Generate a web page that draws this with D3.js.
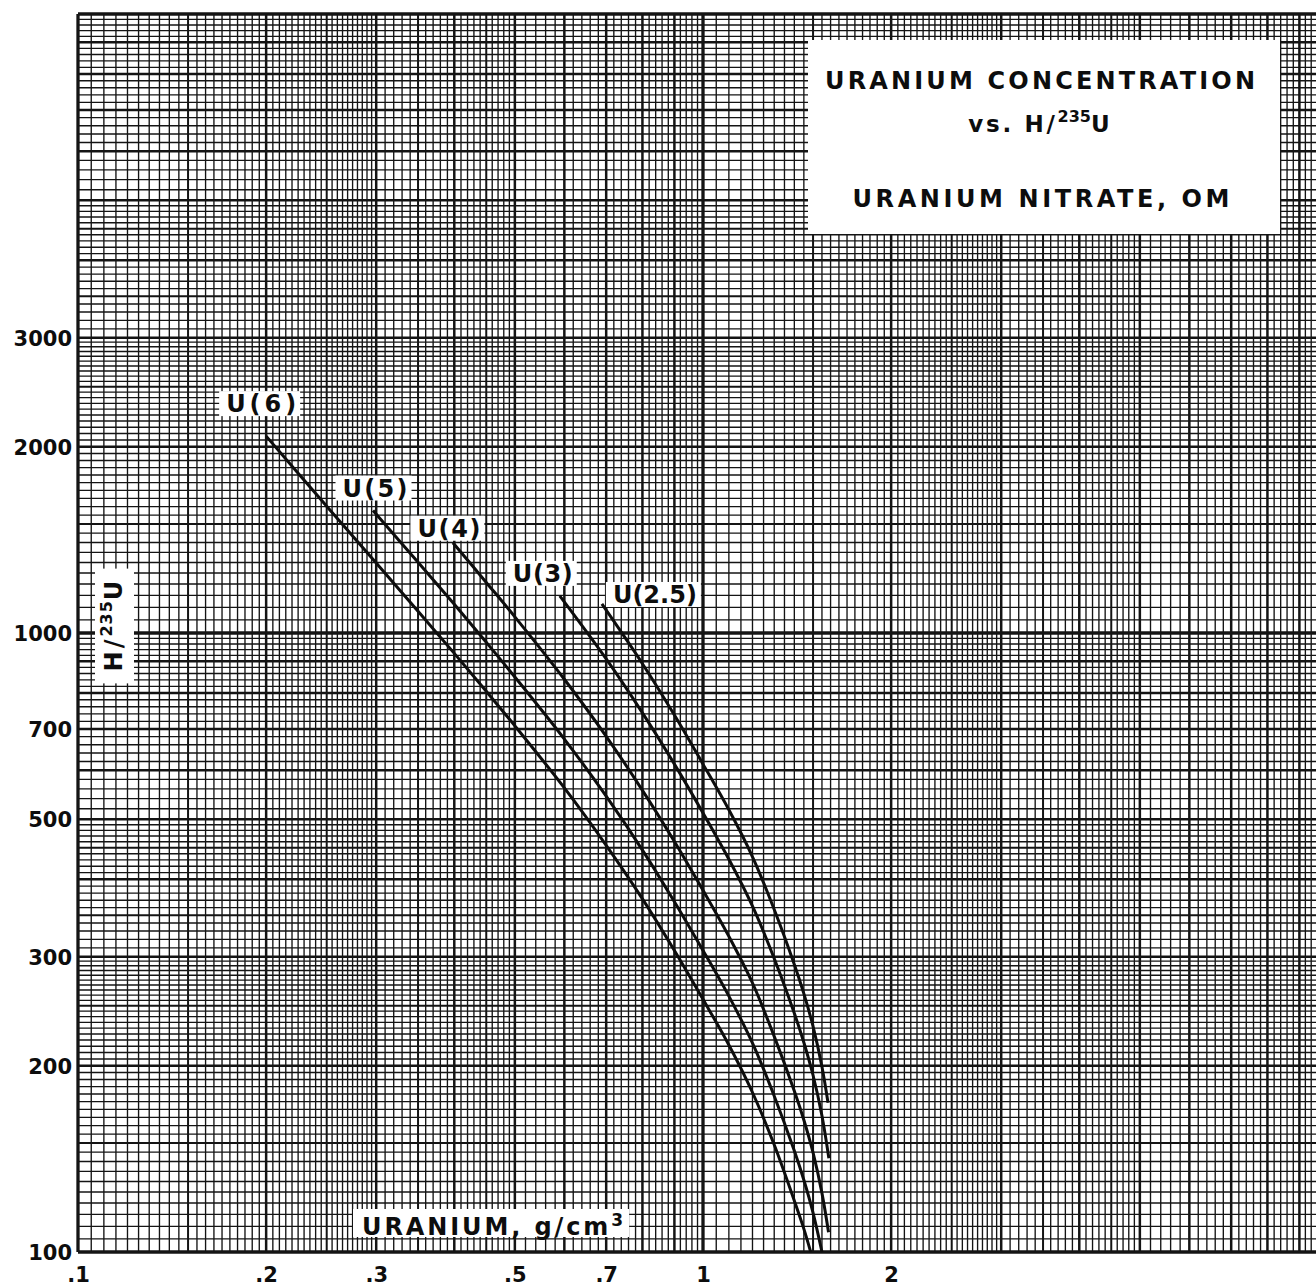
<!DOCTYPE html>
<html><head><meta charset="utf-8">
<script src="https://cdn.jsdelivr.net/npm/d3@7"></script>
<style>
html,body{margin:0;padding:0;background:#fff;}
svg{display:block;}
</style></head><body>
<svg id="chart" width="1316" height="1287"></svg>
<script>
// ---------- data ----------
const xTickValues = [0.1, 0.2, 0.3, 0.5, 0.7, 1, 2];
const xTickLabels = [".1", ".2", ".3", ".5", ".7", "1", "2"];
const yTickValues = [100, 200, 300, 500, 700, 1000, 2000, 3000];
const yTickLabels = ["100", "200", "300", "500", "700", "1000", "2000", "3000"];

const seriesNames = ["U(6)", "U(5)", "U(4)", "U(3)", "U(2.5)"];
const u6X  = [0.2, 0.25, 0.3, 0.35, 0.4, 0.45, 0.5, 0.6, 0.7, 0.8, 0.9, 1.0, 1.1, 1.2, 1.3, 1.4, 1.45, 1.487];
const u6Y  = [2080, 1602, 1297, 1084, 927, 805, 708, 562, 454, 372, 307, 256, 216, 181, 149, 121, 109, 100];
const u5X  = [0.2965, 0.35, 0.4, 0.45, 0.5, 0.6, 0.7, 0.8, 0.9, 1.0, 1.1, 1.2, 1.3, 1.4, 1.45, 1.5, 1.55];
const u5Y  = [1577, 1301, 1113, 966, 849, 674, 545, 446, 368, 307, 259, 217.5, 178.7, 145.7, 130.7, 115.7, 100];
const u4X  = [0.398, 0.45, 0.5, 0.6, 0.7, 0.8, 0.9, 1.0, 1.1, 1.2, 1.3, 1.4, 1.45, 1.5, 1.55, 1.588];
const u4Y  = [1399, 1207, 1062, 842, 681, 557, 460.5, 384, 323.5, 272, 223, 182, 163.4, 144.7, 124.5, 107.6];
const u3X  = [0.59, 0.7, 0.8, 0.9, 1.0, 1.1, 1.2, 1.3, 1.4, 1.45, 1.5, 1.55, 1.59];
const u3Y  = [1148, 908, 743, 614, 512, 431, 362, 298, 243, 218, 193, 166, 141.7];
const u25X = [0.689, 0.8, 0.9, 1.0, 1.1, 1.2, 1.3, 1.4, 1.45, 1.5, 1.55, 1.585];
const u25Y = [1114, 892, 737, 614, 518, 435, 357.5, 291.4, 261.5, 231.5, 199.2, 174.2];
const seriesX = [u6X, u5X, u4X, u3X, u25X];
const seriesY = [u6Y, u5Y, u4Y, u3Y, u25Y];

// ---------- layout ----------
const W = 1316, H = 1287;
const svg = d3.select("#chart");
const x = d3.scaleLog().domain([0.1, 10]).range([78, 1328]);
const y = d3.scaleLog().domain([100, 10000]).range([1252, 14]);
const [yBot, yTop] = y.range();
const [xLeft] = x.range();
const INK = "#0d0d0d";
const FONT = "'DejaVu Sans', 'Liberation Sans', sans-serif";

// graph-paper grid
function gridVals(lo, hi) {
  const out = [];
  for (let d = Math.round(Math.log10(lo)); d < Math.round(Math.log10(hi)); d++) {
    const base = Math.pow(10, d);
    const ms = [];
    for (let i = 0; i < 40; i++) ms.push(Math.round((1 + i * 0.05) * 100) / 100);
    for (let j = 0; j < 20; j++) ms.push(Math.round((3 + j * 0.1) * 100) / 100);
    for (let k = 0; k < 25; k++) ms.push(Math.round((5 + k * 0.2) * 100) / 100);
    ms.forEach(m => {
      let w;
      if (m === 1) w = 3.3;
      else if (Number.isInteger(m)) w = 2.5;
      else if (Math.abs(m * 2 - Math.round(m * 2)) < 1e-9) w = 2.0;
      else w = 1.35;
      out.push({ v: base * m, w });
    });
  }
  out.push({ v: hi, w: 3.3 });
  return out;
}
const grid = svg.append("g").attr("stroke", "#141414");
gridVals(0.1, 10).filter(d => x(d.v) <= W + 2).forEach(d => {
  grid.append("line").attr("x1", x(d.v)).attr("x2", x(d.v))
    .attr("y1", yTop).attr("y2", yBot).attr("stroke-width", d.w);
});
gridVals(100, 10000).forEach(d => {
  grid.append("line").attr("x1", xLeft).attr("x2", W + 2)
    .attr("y1", y(d.v)).attr("y2", y(d.v)).attr("stroke-width", d.w);
});

// axes (tick labels)
const yAxis = svg.append("g").attr("transform", `translate(${xLeft - 1},0)`)
  .call(d3.axisLeft(y).tickValues(yTickValues)
    .tickFormat((d, i) => yTickLabels[i]).tickSize(0).tickPadding(5));
yAxis.select(".domain").remove();
yAxis.attr("font-family", FONT).attr("font-weight", "bold").attr("font-size", 21);
yAxis.selectAll("text").attr("fill", INK).attr("dy", "0.36em");

const xAxis = svg.append("g").attr("transform", `translate(0,${yBot})`)
  .call(d3.axisBottom(x).tickValues(xTickValues)
    .tickFormat((d, i) => xTickLabels[i]).tickSize(0).tickPadding(15));
xAxis.select(".domain").remove();
xAxis.attr("font-family", FONT).attr("font-weight", "bold").attr("font-size", 21);
xAxis.selectAll("text").attr("fill", INK);

// layers
const boxLayer = svg.append("g");
const curveLayer = svg.append("g");
const textLayer = svg.append("g");

function addBox(textSel, padL, padR, padT, padB, transform) {
  const b = textSel.node().getBBox();
  const r = boxLayer.append("rect")
    .attr("x", b.x - padL).attr("y", b.y - padT)
    .attr("width", b.width + padL + padR).attr("height", b.height + padT + padB)
    .attr("fill", "#fff");
  if (transform) r.attr("transform", transform);
}

// curves
const line = d3.line().x(d => x(d[0])).y(d => y(d[1])).curve(d3.curveCatmullRom.alpha(0.5));
seriesNames.forEach((n, i) => {
  const pts = seriesX[i].map((v, k) => [v, seriesY[i][k]]);
  curveLayer.append("path").attr("d", line(pts)).attr("fill", "none")
    .attr("stroke", INK).attr("stroke-width", 3).attr("stroke-linejoin", "round");
});

// curve labels (pixel offsets from each curve's first point)
const labelLayout = [
  { dx: -5,  dy: -24, len: 70 },
  { dx: 2,   dy: -14, len: 65 },
  { dx: -4,  dy: -6,  len: 63 },
  { dx: -17, dy: -14, len: 60 },
  { dx: 53,  dy: -1,  len: 84 }
];
seriesNames.forEach((n, i) => {
  const L = labelLayout[i];
  const t = textLayer.append("text")
    .attr("x", x(seriesX[i][0]) + L.dx).attr("y", y(seriesY[i][0]) + L.dy)
    .attr("text-anchor", "middle").attr("font-family", FONT).attr("font-weight", "bold")
    .attr("font-size", 24).attr("fill", INK)
    .attr("textLength", L.len).attr("lengthAdjust", "spacing").text(n);
  addBox(t, 7, 4, -1, -2);
});

// title box
boxLayer.append("rect").attr("x", 808).attr("y", 40).attr("width", 472).attr("height", 194).attr("fill", "#fff");
textLayer.append("text").attr("x", 1040).attr("y", 89).attr("text-anchor", "middle")
  .attr("font-family", FONT).attr("font-weight", "bold").attr("font-size", 24).attr("fill", INK)
  .attr("textLength", 430).attr("lengthAdjust", "spacing").text("URANIUM CONCENTRATION");
const t2 = textLayer.append("text").attr("x", 1039).attr("y", 132).attr("text-anchor", "middle")
  .attr("font-family", FONT).attr("font-weight", "bold").attr("font-size", 23).attr("fill", INK);
t2.append("tspan").attr("letter-spacing", 2.7).text("vs. H/");
t2.append("tspan").attr("dy", -10).attr("font-size", 16).text("235");
t2.append("tspan").attr("dy", 10).text("U");
textLayer.append("text").attr("x", 1041).attr("y", 207).attr("text-anchor", "middle")
  .attr("font-family", FONT).attr("font-weight", "bold").attr("font-size", 24).attr("fill", INK)
  .attr("textLength", 377).attr("lengthAdjust", "spacing").text("URANIUM NITRATE, OM");

// x-axis title
const xt = textLayer.append("text").attr("x", 362).attr("y", 1235)
  .attr("font-family", FONT).attr("font-weight", "bold").attr("font-size", 24).attr("fill", INK);
xt.append("tspan").attr("letter-spacing", 2.9).text("URANIUM, g/cm");
xt.append("tspan").attr("dy", -9).attr("font-size", 17).text("3");
addBox(xt, 9, 6, 1, -4);

// y-axis title (rotated)
const yTitleT = "translate(122,626) rotate(-90)";
const yt = textLayer.append("text").attr("transform", yTitleT).attr("x", 0).attr("y", 0)
  .attr("text-anchor", "middle")
  .attr("font-family", FONT).attr("font-weight", "bold").attr("font-size", 24).attr("fill", INK);
yt.append("tspan").attr("letter-spacing", 3).text("H/");
yt.append("tspan").attr("dy", -10).attr("font-size", 16).attr("letter-spacing", 1).text("235");
yt.append("tspan").attr("dy", 10).text("U");
addBox(yt, 12, 12, 2, 6, yTitleT);
</script>
</body></html>
